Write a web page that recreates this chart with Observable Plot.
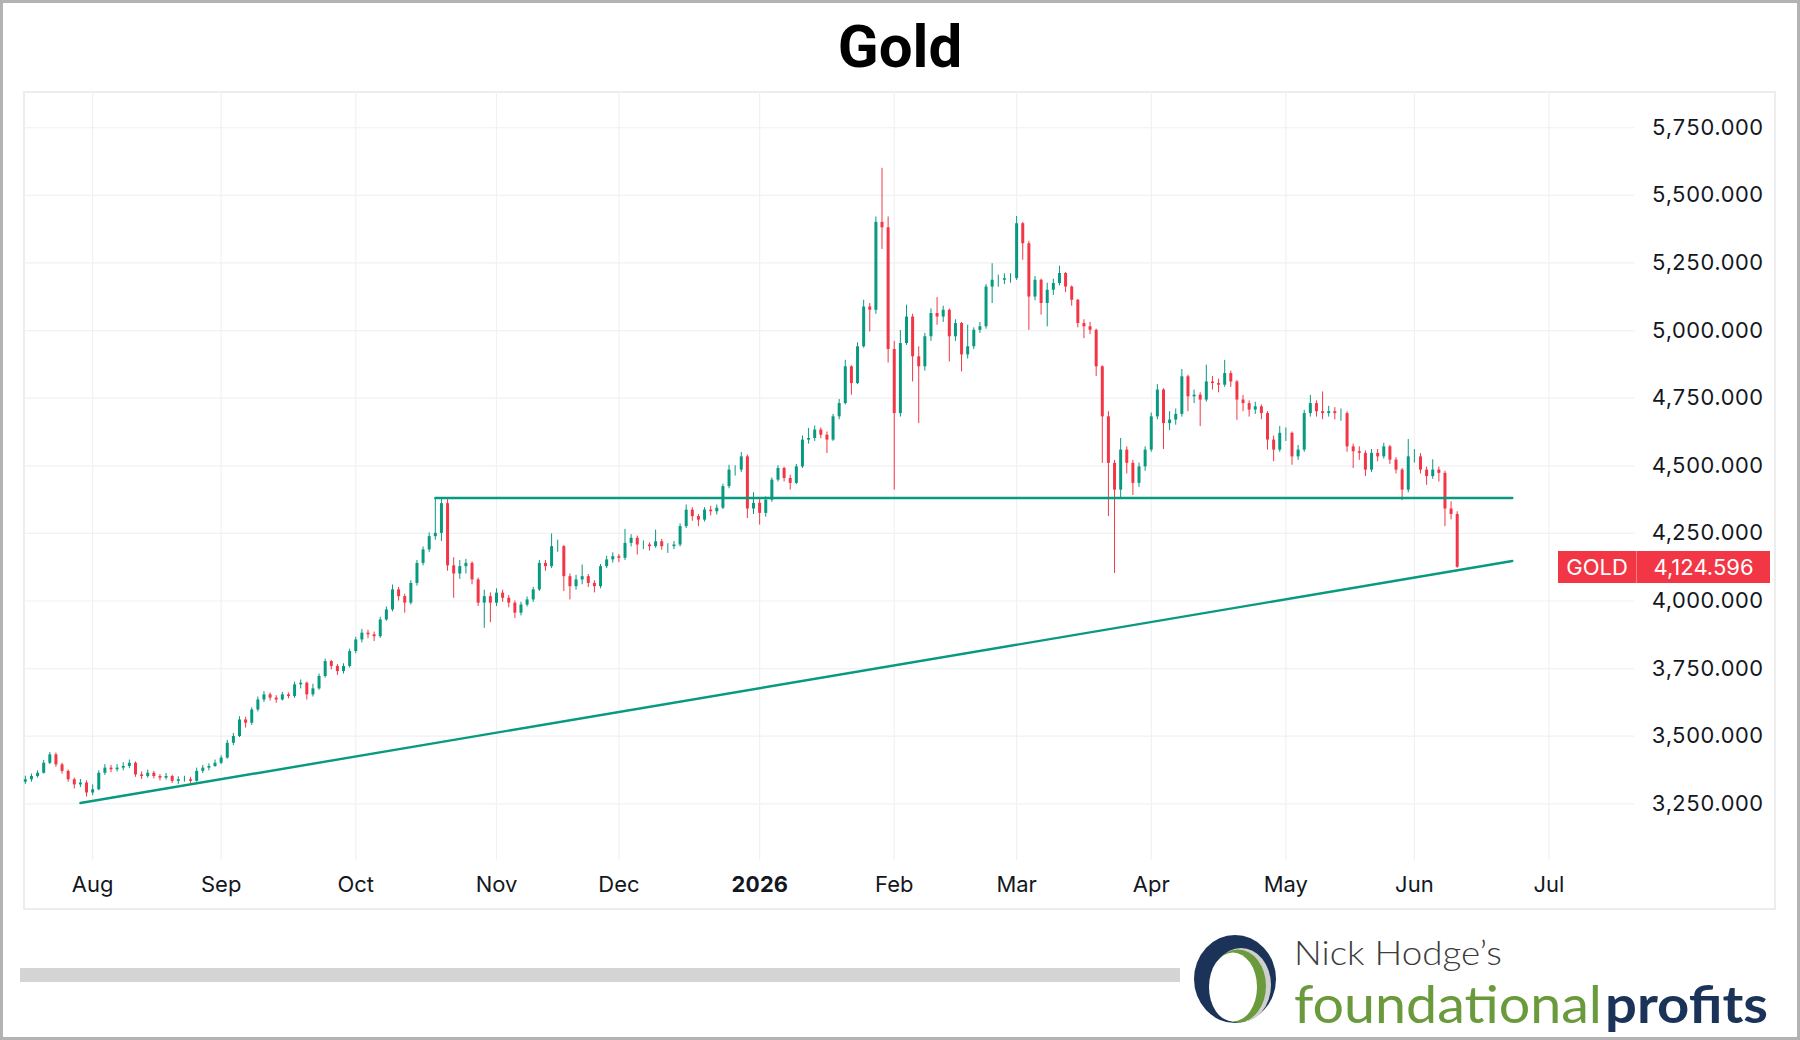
<!DOCTYPE html>
<html>
<head>
<meta charset="utf-8">
<script src="https://cdn.jsdelivr.net/npm/d3@7"></script>
<script src="https://cdn.jsdelivr.net/npm/@observablehq/plot@0.6"></script>
<style>
  html, body { margin: 0; padding: 0; background: #fff; }
  #page { position: relative; width: 1800px; height: 1040px; background: #fff; overflow: hidden; }
  #frame { position: absolute; left: 0; top: 0; width: 1800px; height: 1040px; box-sizing: border-box; border: 3px solid #b3b3b3; pointer-events: none; z-index: 10; }
  #panel { position: absolute; left: 23px; top: 91px; width: 1753px; height: 819px; box-sizing: border-box; border: 2px solid #ededed; }
  #chart { position: absolute; left: -2px; top: -2px; }
  #badge { position: absolute; display: flex; height: 32px; font-family: Inter, "Liberation Sans", sans-serif; font-size: 22px; color: #fff; }
  #badge div { background: #f23645; display: flex; align-items: center; justify-content: center; height: 32px; }
  #bar { position: absolute; left: 20px; top: 968px; width: 1160px; height: 14px; background: #d4d4d4; }
</style>
</head>
<body>
<div id="page">
  <svg id="title" width="1800" height="90" style="position:absolute;left:0;top:0">
    <text x="900" y="67" text-anchor="middle" font-family="Roboto, 'Liberation Sans', sans-serif" font-weight="700" font-size="60" fill="#000">Gold</text>
  </svg>
  <div id="panel"><div id="chart"></div></div>
  <div id="bar"></div>
  <svg id="logo" width="600" height="115" style="position:absolute;left:1185px;top:925px">
    <ellipse cx="50" cy="54" rx="41" ry="44" fill="#1b3358"/>
    <ellipse cx="56" cy="60" rx="30" ry="37" fill="#cfcfcf"/>
    <ellipse cx="53" cy="61" rx="28" ry="36.5" fill="#6a9a3c"/>
    <ellipse cx="48" cy="62" rx="24" ry="34.5" fill="#ffffff"/>
    <text x="109" y="39.5" font-family="Lato, 'Open Sans', sans-serif" font-weight="300" font-size="34" fill="#3c3c3c" textLength="208" lengthAdjust="spacingAndGlyphs">Nick Hodge’s</text>
    <text font-family="Lato, 'Open Sans', sans-serif" font-size="52"><tspan x="109" y="98" font-weight="400" fill="#6a9a3c" textLength="308" lengthAdjust="spacingAndGlyphs">foundational</tspan><tspan x="420" y="98" font-weight="700" fill="#1b3358" textLength="163" lengthAdjust="spacingAndGlyphs">profits</tspan></text>
  </svg>
  <div id="badge"><div id="badgeName" style="width:78px">GOLD</div><div style="width:1px;background:#f7808b"></div><div id="badgeValue" style="width:133px"></div></div>
  <div id="frame"></div>
</div>
<script>
// ---- data (daily bars) ----
const startDate = "2025-07-17";
const firstOpen = 3330;
const closes = [
  3339,3351,3363,3400,3431,3394,3370,3339,3320,3327,
  3290,3302,3363,3382,3376,3382,3388,3400,3357,3351,
  3363,3351,3345,3351,3333,3339,3339,3333,3370,3382,
  3388,3400,3419,3474,3499,3560,3548,3597,3634,3653,
  3641,3634,3653,3647,3690,3696,3653,3675,3721,3776,
  3758,3739,3758,3813,3856,3881,3875,3868,3930,3967,
  4041,4016,3992,4065,4139,4189,4238,4250,4360,4130,
  4100,4127,4139,4078,3992,4016,3992,4029,4010,3992,
  3955,3985,4004,4041,4139,4127,4201,4201,4090,4053,
  4078,4090,4065,4053,4127,4152,4164,4158,4213,4232,
  4207,4207,4201,4219,4201,4201,4207,4275,4336,4312,
  4299,4336,4330,4343,4423,4484,4484,4533,4340,4361,
  4324,4373,4447,4490,4453,4435,4496,4595,4601,4632,
  4613,4595,4681,4730,4866,4804,4940,5087,5075,5400,
  5380,4930,4693,4952,5050,4903,4866,4977,5063,5050,
  5075,4977,5026,4910,4940,5001,5014,5161,5186,5186,
  5192,5192,5395,5321,5124,5186,5100,5149,5174,5211,
  5161,5112,5026,5014,5001,4866,4681,4509,4410,4558,
  4509,4435,4496,4558,4681,4780,4656,4669,4690,4829,
  4755,4761,4743,4810,4804,4798,4841,4810,4743,4730,
  4706,4718,4693,4595,4558,4620,4620,4533,4558,4693,
  4730,4700,4693,4700,4693,4693,4570,4552,4546,4484,
  4546,4533,4570,4521,4484,4410,4533,4533,4484,4460,
  4484,4472,4340,4320,4124.596
];
const highs = [
  3352,3360,3372,3410,3440,3438,3400,3375,3345,3340,
  3335,3320,3372,3395,3392,3395,3402,3412,3405,3368,
  3375,3370,3358,3362,3356,3350,3352,3348,3382,3392,
  3398,3412,3428,3485,3510,3572,3570,3605,3645,3665,
  3660,3650,3662,3660,3700,3708,3700,3692,3730,3785,
  3780,3765,3768,3822,3866,3895,3892,3885,3940,3978,
  4059,4050,4025,4075,4150,4200,4252,4382,4382,4375,
  4160,4150,4154,4145,4085,4040,4030,4045,4040,4020,
  4000,3995,4015,4050,4150,4150,4248,4225,4205,4100,
  4095,4133,4098,4075,4135,4165,4178,4172,4265,4245,
  4240,4222,4215,4262,4228,4212,4220,4285,4355,4345,
  4320,4345,4350,4355,4432,4502,4500,4549,4540,4400,
  4375,4385,4455,4500,4495,4465,4505,4610,4638,4647,
  4640,4625,4690,4745,4890,4870,4955,5112,5100,5420,
  5600,5420,4960,5000,5094,5060,4940,4990,5080,5122,
  5090,5080,5040,5030,5020,5010,5030,5170,5247,5205,
  5210,5210,5422,5400,5330,5200,5190,5175,5190,5238,
  5215,5165,5115,5040,5030,5005,4870,4700,4520,4601,
  4570,4520,4510,4570,4695,4800,4785,4700,4710,4856,
  4835,4780,4770,4872,4830,4820,4890,4850,4815,4760,
  4740,4735,4725,4700,4610,4645,4640,4625,4575,4705,
  4760,4740,4773,4720,4715,4710,4700,4580,4570,4555,
  4560,4560,4583,4575,4530,4490,4597,4560,4545,4495,
  4522,4495,4480,4367,4330
];
const lows = [
  3322,3330,3345,3360,3395,3385,3360,3330,3305,3310,
  3275,3280,3298,3355,3365,3368,3372,3380,3348,3340,
  3345,3342,3335,3338,3325,3322,3330,3325,3330,3362,
  3372,3385,3395,3415,3465,3495,3530,3540,3590,3625,
  3630,3622,3630,3638,3640,3675,3634,3645,3670,3715,
  3745,3725,3730,3752,3805,3845,3860,3850,3862,3925,
  3960,4000,3955,3985,4055,4130,4180,4225,4220,4110,
  4010,4080,4100,4060,3980,3899,3920,3980,3995,3975,
  3935,3945,3978,3995,4035,4110,4120,4180,4035,4004,
  4040,4060,4050,4030,4045,4120,4140,4142,4150,4200,
  4170,4190,4185,4195,4188,4176,4190,4200,4268,4295,
  4275,4292,4315,4318,4338,4415,4462,4475,4305,4320,
  4281,4310,4365,4440,4440,4410,4430,4490,4580,4590,
  4600,4545,4590,4670,4725,4761,4800,4935,4995,5060,
  5300,4880,4410,4680,4945,4810,4656,4850,4960,5020,
  5030,4884,4960,4847,4895,4930,4990,5005,5100,5160,
  5170,5175,5185,5260,5001,5110,5057,5014,5130,5165,
  5140,5090,5010,4970,4985,4830,4509,4312,4102,4380,
  4470,4390,4420,4480,4550,4670,4560,4630,4650,4680,
  4700,4730,4645,4735,4780,4770,4790,4790,4668,4700,
  4680,4690,4670,4558,4515,4550,4590,4502,4520,4550,
  4680,4680,4670,4680,4670,4665,4550,4490,4520,4460,
  4475,4515,4525,4505,4470,4371,4400,4510,4470,4428,
  4450,4440,4275,4300,4121
];
const monthStarts = ["2025-08-01","2025-09-01","2025-10-01","2025-11-01","2025-12-01","2026-01-01","2026-02-01","2026-03-01","2026-04-01","2026-05-01","2026-06-01","2026-07-01"];
const monthLabels = ["Aug","Sep","Oct","Nov","Dec","2026","Feb","Mar","Apr","May","Jun","Jul"];
const yTicks = [3250,3500,3750,4000,4250,4500,4750,5000,5250,5500,5750];
const supportLine = [["2025-07-30", 3253], ["2026-06-23", 4148]];
const resistanceLine = [["2025-10-20", 4381], ["2026-06-23", 4381]];
const symbol = "GOLD";

// ---- build ----
const UP = "#089981", DOWN = "#f23645", GRID = "#f0f1f3", TXT = "#131722";
const calendar = d3.utcDay.range(new Date(startDate), new Date("2026-08-01")).filter(d => d.getUTCDay() % 6 !== 0);
const idx = s => { const t = new Date(s); return calendar.findIndex(d => d >= t); };

const bars = closes.map((c, k) => ({
  i: k,
  open: k === 0 ? firstOpen : closes[k - 1],
  high: highs[k], low: lows[k], close: c
}));
const upBars = bars.filter(b => b.close >= b.open);
const downBars = bars.filter(b => b.close < b.open);

const months = monthStarts.map((s, k) => ({i: idx(s), label: monthLabels[k]}));
const labelOf = new Map(months.map(m => [m.i, m.label]));
const normalTicks = months.filter(m => m.label !== "2026").map(m => m.i);
const yearTicks = months.filter(m => m.label === "2026").map(m => m.i);

const lineData = arr => arr.map(([d, p]) => ({i: idx(d), p}));

const chart = Plot.plot({
  width: 1753,
  height: 819,
  marginLeft: 0,
  marginRight: 140,
  marginTop: 0,
  marginBottom: 49,
  x: {type: "linear", domain: [-0.3, 263]},
  y: {domain: [3040, 5884]},
  style: {fontFamily: "Inter, 'Liberation Sans', sans-serif", fontSize: "22px", color: TXT, background: "transparent", overflow: "visible"},
  marks: [
    Plot.gridY(yTicks, {stroke: GRID, strokeOpacity: 1, strokeWidth: 1.2}),
    Plot.gridX(months.map(m => m.i), {stroke: GRID, strokeOpacity: 1, strokeWidth: 1.2}),
    Plot.axisY(yTicks, {anchor: "right", tickSize: 0, tickPadding: 17, textAnchor: "start", tickFormat: d3.format(",.3f"), label: null, fill: TXT}),
    Plot.axisX(normalTicks, {anchor: "bottom", tickSize: 0, tickPadding: 16, tickFormat: d => labelOf.get(d), label: null, fill: TXT}),
    Plot.axisX(yearTicks, {anchor: "bottom", tickSize: 0, tickPadding: 16, tickFormat: d => labelOf.get(d), label: null, fill: TXT, fontWeight: "bold"}),
    Plot.ruleX(upBars, {x: "i", y1: "low", y2: "high", stroke: UP, strokeWidth: 1}),
    Plot.ruleX(downBars, {x: "i", y1: "low", y2: "high", stroke: DOWN, strokeWidth: 1}),
    Plot.ruleX(upBars, {x: "i", y1: "open", y2: "close", stroke: UP, strokeWidth: 3}),
    Plot.ruleX(downBars, {x: "i", y1: "open", y2: "close", stroke: DOWN, strokeWidth: 3}),
    Plot.line(lineData(resistanceLine), {x: "i", y: "p", stroke: UP, strokeWidth: 2.4}),
    Plot.line(lineData(supportLine), {x: "i", y: "p", stroke: UP, strokeWidth: 2.4})
  ]
});
document.getElementById("chart").appendChild(chart);

// price badge on the price scale
const last = closes[closes.length - 1];
const yLast = chart.scale("y").apply(last);
const badge = document.getElementById("badge");
badge.style.left = (23 + chart.scale("x").range[1] - 78) + "px";
badge.style.top = (91 + yLast - 16) + "px";
document.getElementById("badgeName").textContent = symbol;
document.getElementById("badgeValue").textContent = d3.format(",.3f")(last);
</script>
</body>
</html>
